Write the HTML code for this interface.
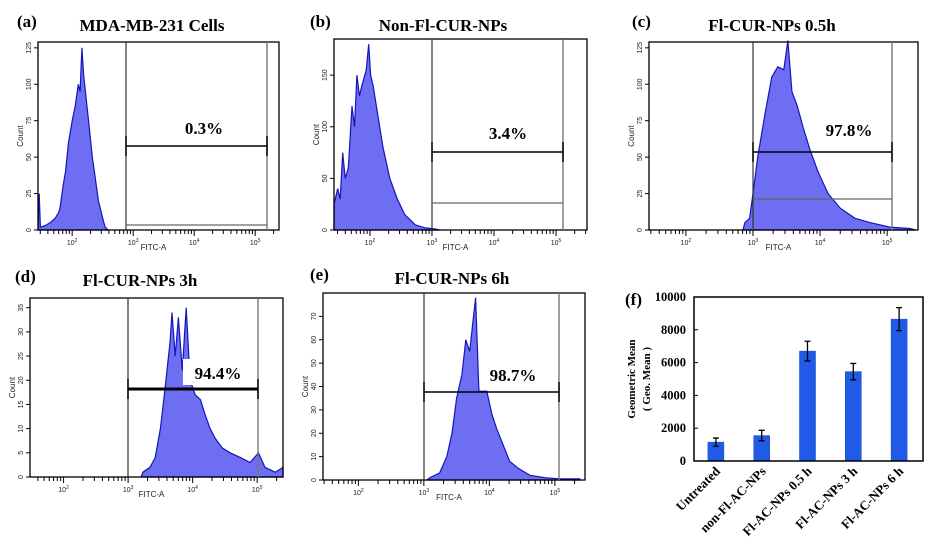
<!DOCTYPE html>
<html><head><meta charset="utf-8"><style>
body{margin:0;background:#fff}
svg{display:block}
.t{font-family:"Liberation Serif",serif;font-weight:bold}
.s{font-family:"Liberation Sans",sans-serif}
</style></head><body>
<svg id="fig" width="945" height="558" viewBox="0 0 945 558" xmlns="http://www.w3.org/2000/svg"></svg>
<script>
// ---- histogram data (log10 FITC-A, count) ----
const aLog=[1.44,1.46,1.48,1.56,1.64,1.72,1.78,1.80,1.85,1.89,1.94,2.0,2.05,2.10,2.13,2.16,2.19,2.23,2.28,2.33,2.38,2.43,2.50,2.54,2.59];
const aCount=[0,25,2,3,5,8,12,15,30,40,60,75,85,100,95,125,105,90,70,50,35,20,8,2,0];
const bLog=[1.42,1.48,1.52,1.56,1.60,1.65,1.71,1.75,1.79,1.83,1.87,1.94,1.98,2.01,2.05,2.13,2.21,2.32,2.44,2.56,2.73,2.89,3.05,3.13];
const bCount=[25,40,30,75,50,60,120,100,150,130,140,155,180,150,140,110,80,50,30,15,5,2,1,0];
const cLog=[2.85,2.88,2.95,3.0,3.07,3.18,3.28,3.37,3.46,3.52,3.58,3.66,3.75,3.85,3.97,4.12,4.30,4.52,4.75,5.04,5.34,5.42];
const cCount=[0,5,8,25,50,80,105,112,110,130,95,85,70,55,40,25,15,8,5,2,1,0];
const dLog=[3.20,3.23,3.34,3.42,3.50,3.57,3.65,3.68,3.73,3.78,3.84,3.90,3.96,4.04,4.12,4.19,4.27,4.35,4.46,4.58,4.74,4.89,5.02,5.12,5.28,5.40];
const dCount=[0,1,2,4,10,18,28,34,25,33,22,35,20,17,16,13,10,8,6,5,4,3,5,2,1,2];
const eLog=[3.05,3.09,3.24,3.35,3.43,3.50,3.58,3.64,3.70,3.75,3.79,3.84,3.96,4.04,4.11,4.21,4.31,4.44,4.62,4.85,5.08,5.38];
const eCount=[0,1,3,10,20,35,45,60,55,68,78,38,38,28,22,15,8,5,2,1,0.5,0.5];
// ---- bar chart data ----
const barCats=["Untreated","non-Fl-AC-NPs","Fl-AC-NPs 0.5 h","Fl-AC-NPs 3 h","Fl-AC-NPs 6 h"];
const barVals=[1150,1550,6700,5450,8650];
const barErr=[250,320,600,500,700];
const barTicks=[0,2000,4000,6000,8000,10000];

const NS="http://www.w3.org/2000/svg";
const svg=document.getElementById('fig');
function mk(tag,attrs,parent,text){const e=document.createElementNS(NS,tag);for(const k in attrs)e.setAttribute(k,attrs[k]);if(text!==undefined)e.textContent=text;(parent||svg).appendChild(e);return e;}

const panels=[
 {id:'a',lab:'(a)',labX:17,title:'MDA-MB-231 Cells',tX:152,tY:31,x0:38,x1:279,y0:42,y1:230,l0:1.44,l1:5.39,cmax:129,yt:[0,25,50,75,100,125],logs:aLog,counts:aCount,
  g1:126,g2:267,hy:146,gy:225,pct:'0.3%',pX:204,pY:134},
 {id:'b',lab:'(b)',labX:310,title:'Non-Fl-CUR-NPs',tX:443,tY:31,x0:334,x1:587,y0:39,y1:230,l0:1.42,l1:5.50,cmax:185,yt:[0,50,100,150],logs:bLog,counts:bCount,
  g1:432,g2:563,hy:152,gy:203,pct:'3.4%',pX:508,pY:139},
 {id:'c',lab:'(c)',labX:632,title:'Fl-CUR-NPs 0.5h',tX:772,tY:31,x0:649,x1:918,y0:42,y1:230,l0:1.45,l1:5.46,cmax:129,yt:[0,25,50,75,100,125],logs:cLog,counts:cCount,
  g1:753,g2:892,hy:152,gy:199,pct:'97.8%',pX:849,pY:136},
 {id:'d',lab:'(d)',labX:15,title:'Fl-CUR-NPs 3h',tX:140,tY:286,x0:30,x1:283,y0:298,y1:477,l0:1.48,l1:5.40,cmax:37,yt:[0,5,10,15,20,25,30,35],logs:dLog,counts:dCount,
  g1:128,g2:258,hy:389,gy:null,pct:'94.4%',pX:218,pY:379,thick:true},
 {id:'e',lab:'(e)',labX:310,title:'Fl-CUR-NPs 6h',tX:452,tY:284,x0:323,x1:585,y0:293,y1:480,l0:1.46,l1:5.46,cmax:80,yt:[0,10,20,30,40,50,60,70],logs:eLog,counts:eCount,
  g1:424,g2:559,hy:392,gy:null,pct:'98.7%',pX:513,pY:381}
];

panels.forEach(p=>{
  const g=mk('g',{});
  
  
  const X=l=>p.x0+(l-p.l0)/(p.l1-p.l0)*(p.x1-p.x0);
  const Y=c=>p.y1-c/p.cmax*(p.y1-p.y0);
  const lb=mk('text',{x:p.labX,y:p.tY-4,class:'t','font-size':17},g,p.lab);
  
  
  const tt=mk('text',{x:p.tX,y:p.tY,class:'t','font-size':17,'text-anchor':'middle'},g,p.title);
  
  
  let d='M'+X(p.logs[0]).toFixed(1)+','+p.y1;
  for(let i=0;i<p.logs.length;i++) d+=' L'+X(p.logs[i]).toFixed(1)+','+Y(p.counts[i]).toFixed(1);
  d+=' L'+X(p.logs[p.logs.length-1]).toFixed(1)+','+p.y1+' Z';
  const h=mk('path',{d:d,fill:'#6e6ef2',stroke:'#1515b8','stroke-width':1.2},g);
  
  
  const fr=mk('rect',{x:p.x0,y:p.y0,width:p.x1-p.x0,height:p.y1-p.y0,fill:'none',stroke:'#000','stroke-width':1.3},g);
  
  
  mk('line',{x1:p.g1,y1:p.y0,x2:p.g1,y2:p.y1,stroke:'#333','stroke-width':1.2},g);
  mk('line',{x1:p.g2,y1:p.y0,x2:p.g2,y2:p.y1,stroke:'#777','stroke-width':1.4},g);
  const gl=mk('line',{x1:p.g1,y1:p.hy,x2:p.g2,y2:p.hy,stroke:'#000','stroke-width':p.thick?3:1.6},g);
  
  
  mk('line',{x1:p.g1,y1:p.hy-10,x2:p.g1,y2:p.hy+10,stroke:'#000','stroke-width':1.5},g);
  mk('line',{x1:p.g2,y1:p.hy-10,x2:p.g2,y2:p.hy+10,stroke:'#000','stroke-width':1.5},g);
  if(p.gy) mk('line',{x1:p.g1,y1:p.gy,x2:p.g2,y2:p.gy,stroke:'#666','stroke-width':1.3},g);
  if(p.id==='d') mk('rect',{x:p.pX-35,y:p.pY-20,width:72,height:26,fill:'#fff'},g);
  const pc=mk('text',{x:p.pX,y:p.pY,class:'t','font-size':17,'text-anchor':'middle'},g,p.pct);
  
  
  for(let dec=1;dec<=5;dec++){
    for(let k=1;k<10;k++){
      const l=dec+Math.log10(k);
      if(l<p.l0||l>p.l1)continue;
      const x=X(l);
      mk('line',{x1:x,y1:p.y1,x2:x,y2:p.y1+(k===1?6:4),stroke:'#000','stroke-width':1},g);
    }
    if(dec>=2 && dec>=p.l0 && dec<=p.l1){
      const t=mk('text',{x:X(dec),y:p.y1+15,class:'s','font-size':7,'text-anchor':'middle',fill:'#222'},g,'10');
      mk('tspan',{dy:-3,'font-size':5},t,String(dec));
    }
  }
  const xl=mk('text',{x:(p.x0+p.x1)/2-5,y:p.y1+20,class:'s','font-size':8,'text-anchor':'middle',fill:'#222'},g,'FITC-A');
  
  
  p.yt.forEach(v=>{
    const y=Y(v);
    mk('line',{x1:p.x0-4,y1:y,x2:p.x0,y2:y,stroke:'#000','stroke-width':1},g);
    mk('text',{x:p.x0-7,y:y,class:'s','font-size':7,'text-anchor':'middle',fill:'#222',transform:`rotate(-90 ${p.x0-7} ${y})`},g,String(v));
  });
  const yl=mk('text',{x:p.x0-15,y:(p.y0+p.y1)/2,class:'s','font-size':8,'text-anchor':'middle',fill:'#222',transform:`rotate(-90 ${p.x0-15} ${(p.y0+p.y1)/2})`},g,'Count');
  
  
});

(function(){
  const g=mk('g',{});
  
  
  const px0=694,px1=923,py0=297,py1=461,vmax=10000;
  const Y=v=>py1-v/vmax*(py1-py0);
  const step=(px1-px0)/barCats.length;
  const X=i=>px0+step*(i+0.5)-1;
  const fl=mk('text',{x:625,y:305,class:'t','font-size':17},g,'(f)');
  
  
  barVals.forEach((v,i)=>{
    const r=mk('rect',{x:X(i)-8,y:Y(v),width:16,height:py1-Y(v),fill:'#1f5be6',stroke:'#1546c0','stroke-width':0.5},g);
    
    
    const e1=Y(v+barErr[i]),e2=Y(v-barErr[i]);
    const eb=mk('path',{d:`M${X(i)},${e1} V${e2} M${X(i)-3},${e1} H${X(i)+3} M${X(i)-3},${e2} H${X(i)+3}`,stroke:'#000','stroke-width':1.3,fill:'none'},g);
    
    
    const lt=mk('text',{x:X(i)+5,y:py1+11,class:'t','font-size':13,'text-anchor':'end',transform:`rotate(-45 ${X(i)+5} ${py1+11})`},g,barCats[i]);
    
    
  });
  mk('rect',{x:px0,y:py0,width:px1-px0,height:py1-py0,fill:'none',stroke:'#000','stroke-width':1.5},g);
  barTicks.forEach(v=>{
    const y=Y(v);
    mk('line',{x1:px0,y1:y,x2:px0+4,y2:y,stroke:'#000'},g);
    const t=mk('text',{x:px0-8,y:y+4,class:'t','font-size':12.5,'text-anchor':'end'},g,String(v));
    
    
  });
  const t1=mk('text',{x:635,y:379,class:'t','font-size':11,'text-anchor':'middle',transform:'rotate(-90 635 379)'},g,'Geometric Mean');
  
  
  mk('text',{x:650,y:379,class:'t','font-size':11,'text-anchor':'middle',transform:'rotate(-90 650 379)'},g,'( Geo. Mean )');
})();
</script>
</body></html>
